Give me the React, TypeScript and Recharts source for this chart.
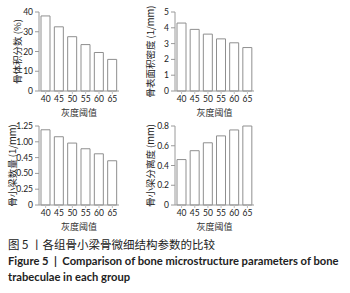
import { Bar, BarChart, XAxis, YAxis } from "recharts";

const grayLevels = ["40", "45", "50", "55", "60", "65"];
const boneVolumeFraction = [38, 32.5, 27.5, 23.5, 19.5, 16];
const boneSurfaceDensity = [4.3, 3.9, 3.6, 3.3, 3.05, 2.75];
const trabecularNumber = [1.19, 1.08, 0.98, 0.89, 0.81, 0.7];
const trabecularSeparation = [0.46, 0.55, 0.63, 0.7, 0.76, 0.8];

const bvTicks = [0, 10, 20, 30, 40];
const bsTicks = [0, 1, 2, 3, 4, 5];
const tbnTicks = [0, 0.25, 0.5, 0.75, 1, 1.25];
// the source figure labels the 0.75 tick as "0.45"
const tbnTickLabels = ["0", "0.25", "0.50", "0.45", "1.00", "1.25"];
const tbspTicks = [0, 0.2, 0.4, 0.6, 0.8];
const tbspTickLabels = ["0", "0.2", "0.4", "0.6", "0.8"];

const CJK = '"Noto Sans CJK SC", "Noto Sans", sans-serif';
const LATIN = 'Lato, "Noto Sans", sans-serif';

interface PanelProps {
  values: number[];
  ticks: number[];
  tickLabels?: string[];
  yLabel: string;
  left: number;
  top: number;
  width: number;
  yAxisWidth: number;
  labelOffset: number;
}

function Panel({ values, ticks, tickLabels, yLabel, left, top, width, yAxisWidth, labelOffset }: PanelProps) {
  const data = grayLevels.map((g, i) => ({ level: g, value: values[i] }));
  const max = ticks[ticks.length - 1];
  return (
    <div style={{ position: "absolute", left, top }}>
      <BarChart width={width} height={119} data={data} margin={{ top: 12, right: 1, left: 0, bottom: 0 }}>
        <XAxis
          dataKey="level"
          height={28}
          axisLine={{ stroke: "#9a9a9a" }}
          tickLine={{ stroke: "#bdbdbd" }}
          tickSize={3}
          tick={{ fill: "#222", fontSize: 8.5, fontFamily: LATIN }}
          interval={0}
          label={{
            value: "灰度阈值",
            position: "insideBottom",
            offset: 3,
            style: { fill: "#333", fontSize: 9, fontFamily: CJK },
          }}
        />
        <YAxis
          width={yAxisWidth}
          domain={[0, max]}
          ticks={ticks}
          interval={0}
          tickFormatter={(v: number) => {
            const idx = ticks.indexOf(v);
            return tickLabels && idx >= 0 ? tickLabels[idx] : String(v);
          }}
          axisLine={{ stroke: "#9a9a9a" }}
          tickLine={{ stroke: "#9a9a9a" }}
          tickSize={4}
          tickMargin={2}
          tick={{ fill: "#222", fontSize: 8.5, fontFamily: LATIN }}
          label={{
            value: yLabel,
            angle: -90,
            position: "insideLeft",
            offset: labelOffset,
            style: { textAnchor: "middle", fill: "#222", fontSize: 9.5, fontFamily: CJK },
          }}
        />
        <Bar
          dataKey="value"
          barSize={9}
          fill="#ffffff"
          stroke="#8f8f8f"
          strokeWidth={1}
          isAnimationActive={false}
        />
      </BarChart>
    </div>
  );
}

export default function App() {
  return (
    <div
      style={{
        position: "fixed",
        left: 0,
        top: 0,
        width: 350,
        height: 293,
        background: "#fff",
        overflow: "hidden",
      }}
    >
      <Panel values={boneVolumeFraction} ticks={bvTicks} yLabel="骨体积分数 (%)" left={0} top={0} width={120} yAxisWidth={39} labelOffset={18} />
      <Panel values={boneSurfaceDensity} ticks={bsTicks} yLabel="骨表面积密度 (1/mm)" left={140} top={0} width={115} yAxisWidth={35} labelOffset={11} />
      <Panel values={trabecularNumber} ticks={tbnTicks} tickLabels={tbnTickLabels} yLabel="骨小梁数量 (1/mm)" left={0} top={114} width={120} yAxisWidth={39} labelOffset={13} />
      <Panel values={trabecularSeparation} ticks={tbspTicks} tickLabels={tbspTickLabels} yLabel="骨小梁分离度 (mm)" left={140} top={114} width={115} yAxisWidth={35} labelOffset={11} />

      <div style={{ position: "absolute", left: 8, top: 237, fontFamily: CJK, fontSize: 11.5, lineHeight: "15px", color: "#222", whiteSpace: "nowrap" }}>
        图 5 丨各组骨小梁骨微细结构参数的比较
      </div>
      <div style={{ position: "absolute", left: 8, top: 253, width: 342, fontFamily: LATIN, fontWeight: 700, fontSize: 11.2, lineHeight: "16px", color: "#222" }}>
        <div style={{ whiteSpace: "nowrap" }}>Figure 5 &nbsp;|&nbsp; Comparison of bone microstructure parameters of bone</div>
        <div style={{ whiteSpace: "nowrap" }}>trabeculae in each group</div>
      </div>
    </div>
  );
}
